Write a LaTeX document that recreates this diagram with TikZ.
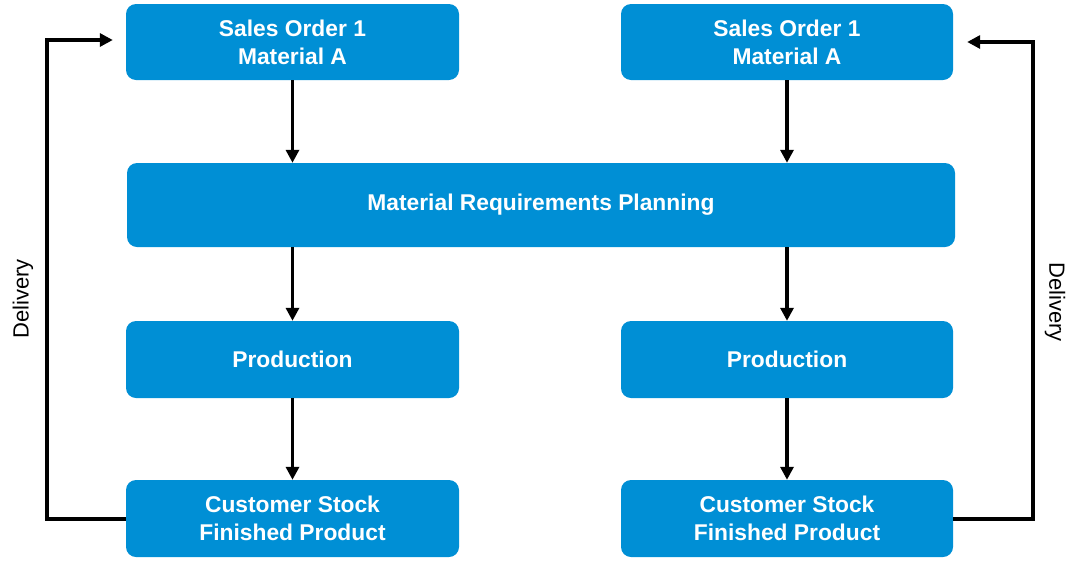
\documentclass[tikz,border=0pt]{standalone}
\usepackage{fontspec}
\setmainfont{Liberation Sans}
\usetikzlibrary{arrows.meta}
\definecolor{boxblue}{RGB}{0,143,213}
\begin{document}
\begin{tikzpicture}[x=1pt,y=-1pt,
  blk/.style={fill=boxblue, draw=none, rounded corners=10pt, text=white,
    font=\fontsize{22.8}{28}\selectfont\bfseries, align=center, inner sep=0pt},
  conn/.style={line width=3.2pt, -{Triangle[length=13pt,width=13pt]}},
  lbl/.style={font=\fontsize{22}{26}\selectfont}]
\useasboundingbox (0,0) rectangle (1080,563);
\node[blk, minimum width=333pt, minimum height=76pt] (so1) at (292.5,42) {Sales Order 1\\Material A};
\node[blk, minimum width=332pt, minimum height=76pt] (so2) at (787,42) {Sales Order 1\\Material A};
\node[blk, minimum width=828pt, minimum height=84pt] (mrp) at (541,205) {Material Requirements Planning};
\node[blk, minimum width=333pt, minimum height=77pt] (p1) at (292.5,359.5) {Production};
\node[blk, minimum width=332pt, minimum height=77pt] (p2) at (787,359.5) {Production};
\node[blk, minimum width=333pt, minimum height=77pt] (c1) at (292.5,518.5) {Customer Stock\\Finished Product};
\node[blk, minimum width=332pt, minimum height=77pt] (c2) at (787,518.5) {Customer Stock\\Finished Product};
\draw[conn] (so1.south) -- (so1.south |- mrp.north);
\draw[conn] (so2.south) -- (so2.south |- mrp.north);
\draw[conn] (p1.north |- mrp.south) -- (p1.north);
\draw[conn] (p2.north |- mrp.south) -- (p2.north);
\draw[conn] (p1.south) -- (c1.north);
\draw[conn] (p2.south) -- (c2.north);
\coordinate (l1) at (47,519);
\coordinate (l2) at (47,40);
\coordinate (r1) at (1033,519);
\coordinate (r2) at (1033,42);
\draw[conn, shorten >=13pt] (c1.west |- l1) -- (l1) -- (l2) -- (so1.west |- l2);
\draw[conn, shorten >=14pt] (c2.east |- r1) -- (r1) -- (r2) -- (so2.east |- r2);
\node[lbl, rotate=90] (d1) at (23,299) {Delivery};
\node[lbl, rotate=-90] (d2) at (1055,302) {Delivery};
\end{tikzpicture}
\end{document}
